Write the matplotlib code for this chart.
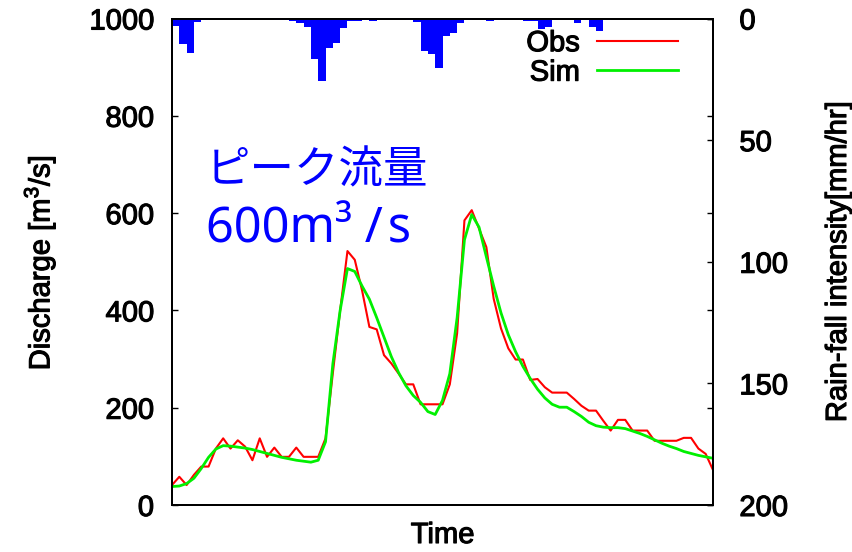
import matplotlib
matplotlib.use('Agg')
import matplotlib.pyplot as plt
import matplotlib.patheffects as pe
import numpy as np

# observed / simulated discharge [m3/s], one value per time step
obs = [41, 58, 41, 62, 79, 79, 116, 137, 116, 133, 120, 92, 137, 99, 118,
       99, 99, 118, 99, 99, 99, 137, 271, 400, 522, 504, 441, 366, 361, 308,
       291, 270, 248, 248, 207, 207, 207, 207, 248, 353, 585, 606, 568, 530, 424,
       363, 322, 299, 299, 257, 259, 242, 231, 231, 231, 218, 204, 194, 194, 173,
       153, 175, 175, 153, 153, 153, 132, 132, 132, 132, 138, 138, 116, 105, 72]
sim = [38, 39, 44, 55, 75, 98, 115, 122, 121, 119, 117, 114, 110, 106, 102,
       98, 95, 92, 90, 88, 92, 130, 290, 400, 486, 480, 450, 423, 385, 345,
       305, 272, 245, 225, 211, 192, 186, 215, 270, 385, 545, 597, 571, 510, 450,
       395, 350, 315, 285, 260, 238, 220, 207, 201, 201, 192, 182, 170, 163, 160,
       159, 159, 157, 152, 147, 141, 134, 127, 121, 116, 110, 106, 102, 99, 96]
# rainfall intensity [mm/hr]
rain = [3.0, 10.5, 14.0, 1.6, 0.7, 0.3, 0.3, 0.2, 0.3, 0.3, 0.3, 0.2, 0.3, 0.3,
        0.5, 0.5, 1.0, 1.8, 3.4, 16.5, 25.5, 12.2, 10.0, 4.1, 1.0, 1.2, 0.7, 1.0,
        0.4, 0.3, 0.3, 0.3, 0.5, 1.4, 13.3, 14.5, 20.5, 7.2, 5.8, 2.0, 0.5, 0.3,
        0.3, 1.0, 0.7, 0.3, 0.3, 0.3, 1.0, 1.0, 4.2, 3.6, 0.4, 0.3, 0.3, 1.9,
        0.5, 3.3, 5.3, 0.5, 0.3, 0.3, 0.3, 0.3, 0.3, 0.3, 0.3, 0.3, 0.3, 0.3,
        0.3, 0.3, 0.3, 0.3]

left_ticks = [0, 200, 400, 600, 800, 1000]
right_ticks = [0, 50, 100, 150, 200]

plt.rcParams['font.family'] = ['Liberation Sans', 'DejaVu Sans']
plt.rcParams['mathtext.fontset'] = 'custom'
plt.rcParams['mathtext.rm'] = 'Liberation Sans'

# gnuplot renders its text a little heavier than plain Arial
heavy = [pe.withStroke(linewidth=0.8, foreground='black')]

fig = plt.figure(figsize=(8.52, 5.52), dpi=100)
ax = fig.add_axes([172 / 852, 1 - 505 / 552, 541 / 852, 486.5 / 552])
ax2 = ax.twinx()

t = np.arange(len(obs))
l1, = ax.plot(t, obs, color='#ff0000', lw=1.5, label='Obs')
l2, = ax.plot(t, sim, color='#00f000', lw=2.0, label='Sim')

ax2.bar(np.arange(len(rain)), rain, width=1, align='edge', color='#0000ff', linewidth=0)

ax.set_xlim(0, len(obs) - 1)
ax.set_ylim(0, 1000)
ax2.set_ylim(200, 0)
ax.set_xticks([])
ax.set_yticks(left_ticks)
ax2.set_yticks(right_ticks)

ax.tick_params(axis='y', direction='in', right=True, length=4.5, width=1.0,
               pad=13, labelsize=21)
ax2.tick_params(axis='y', direction='in', length=4.5, width=1.0,
                pad=19, labelsize=21)
for a in (ax, ax2):
    for s in a.spines.values():
        s.set_linewidth(1.4)
for lab in ax.get_yticklabels() + ax2.get_yticklabels():
    lab.set_path_effects(heavy)

fig.text(40 / 852, 1 - 263 / 552, r'Discharge [m$^3$/s]', rotation=90,
         ha='center', va='center', fontsize=21, path_effects=heavy)
fig.text(838 / 852, 1 - 262 / 552, 'Rain-fall intensity[mm/hr]', rotation=90,
         ha='center', va='center', fontsize=21, path_effects=heavy)
fig.text(442.5 / 852, 1 - 535 / 552, 'Time', ha='center', va='center', fontsize=21,
         path_effects=heavy)

leg = ax2.legend(handles=[l1, l2], loc='upper right', bbox_to_anchor=(506 / 541, 0.978),
                 frameon=False, markerfirst=False, fontsize=21, handlelength=2.77,
                 handletextpad=0.6, labelspacing=0.05, borderpad=0, borderaxespad=0)
for txt in leg.get_texts():
    txt.set_path_effects(heavy)

ax.text(4.6, 660, 'ピーク流量', color='#0000ff', fontsize=32,
        family=['Noto Sans CJK JP', 'DejaVu Sans'], va='baseline')
ax.text(4.7, 540, '600m³ /\u200as', color='#0000ff', fontsize=35,
        family=['Noto Sans', 'DejaVu Sans'], va='baseline')

fig.savefig('out.png', dpi=100)
